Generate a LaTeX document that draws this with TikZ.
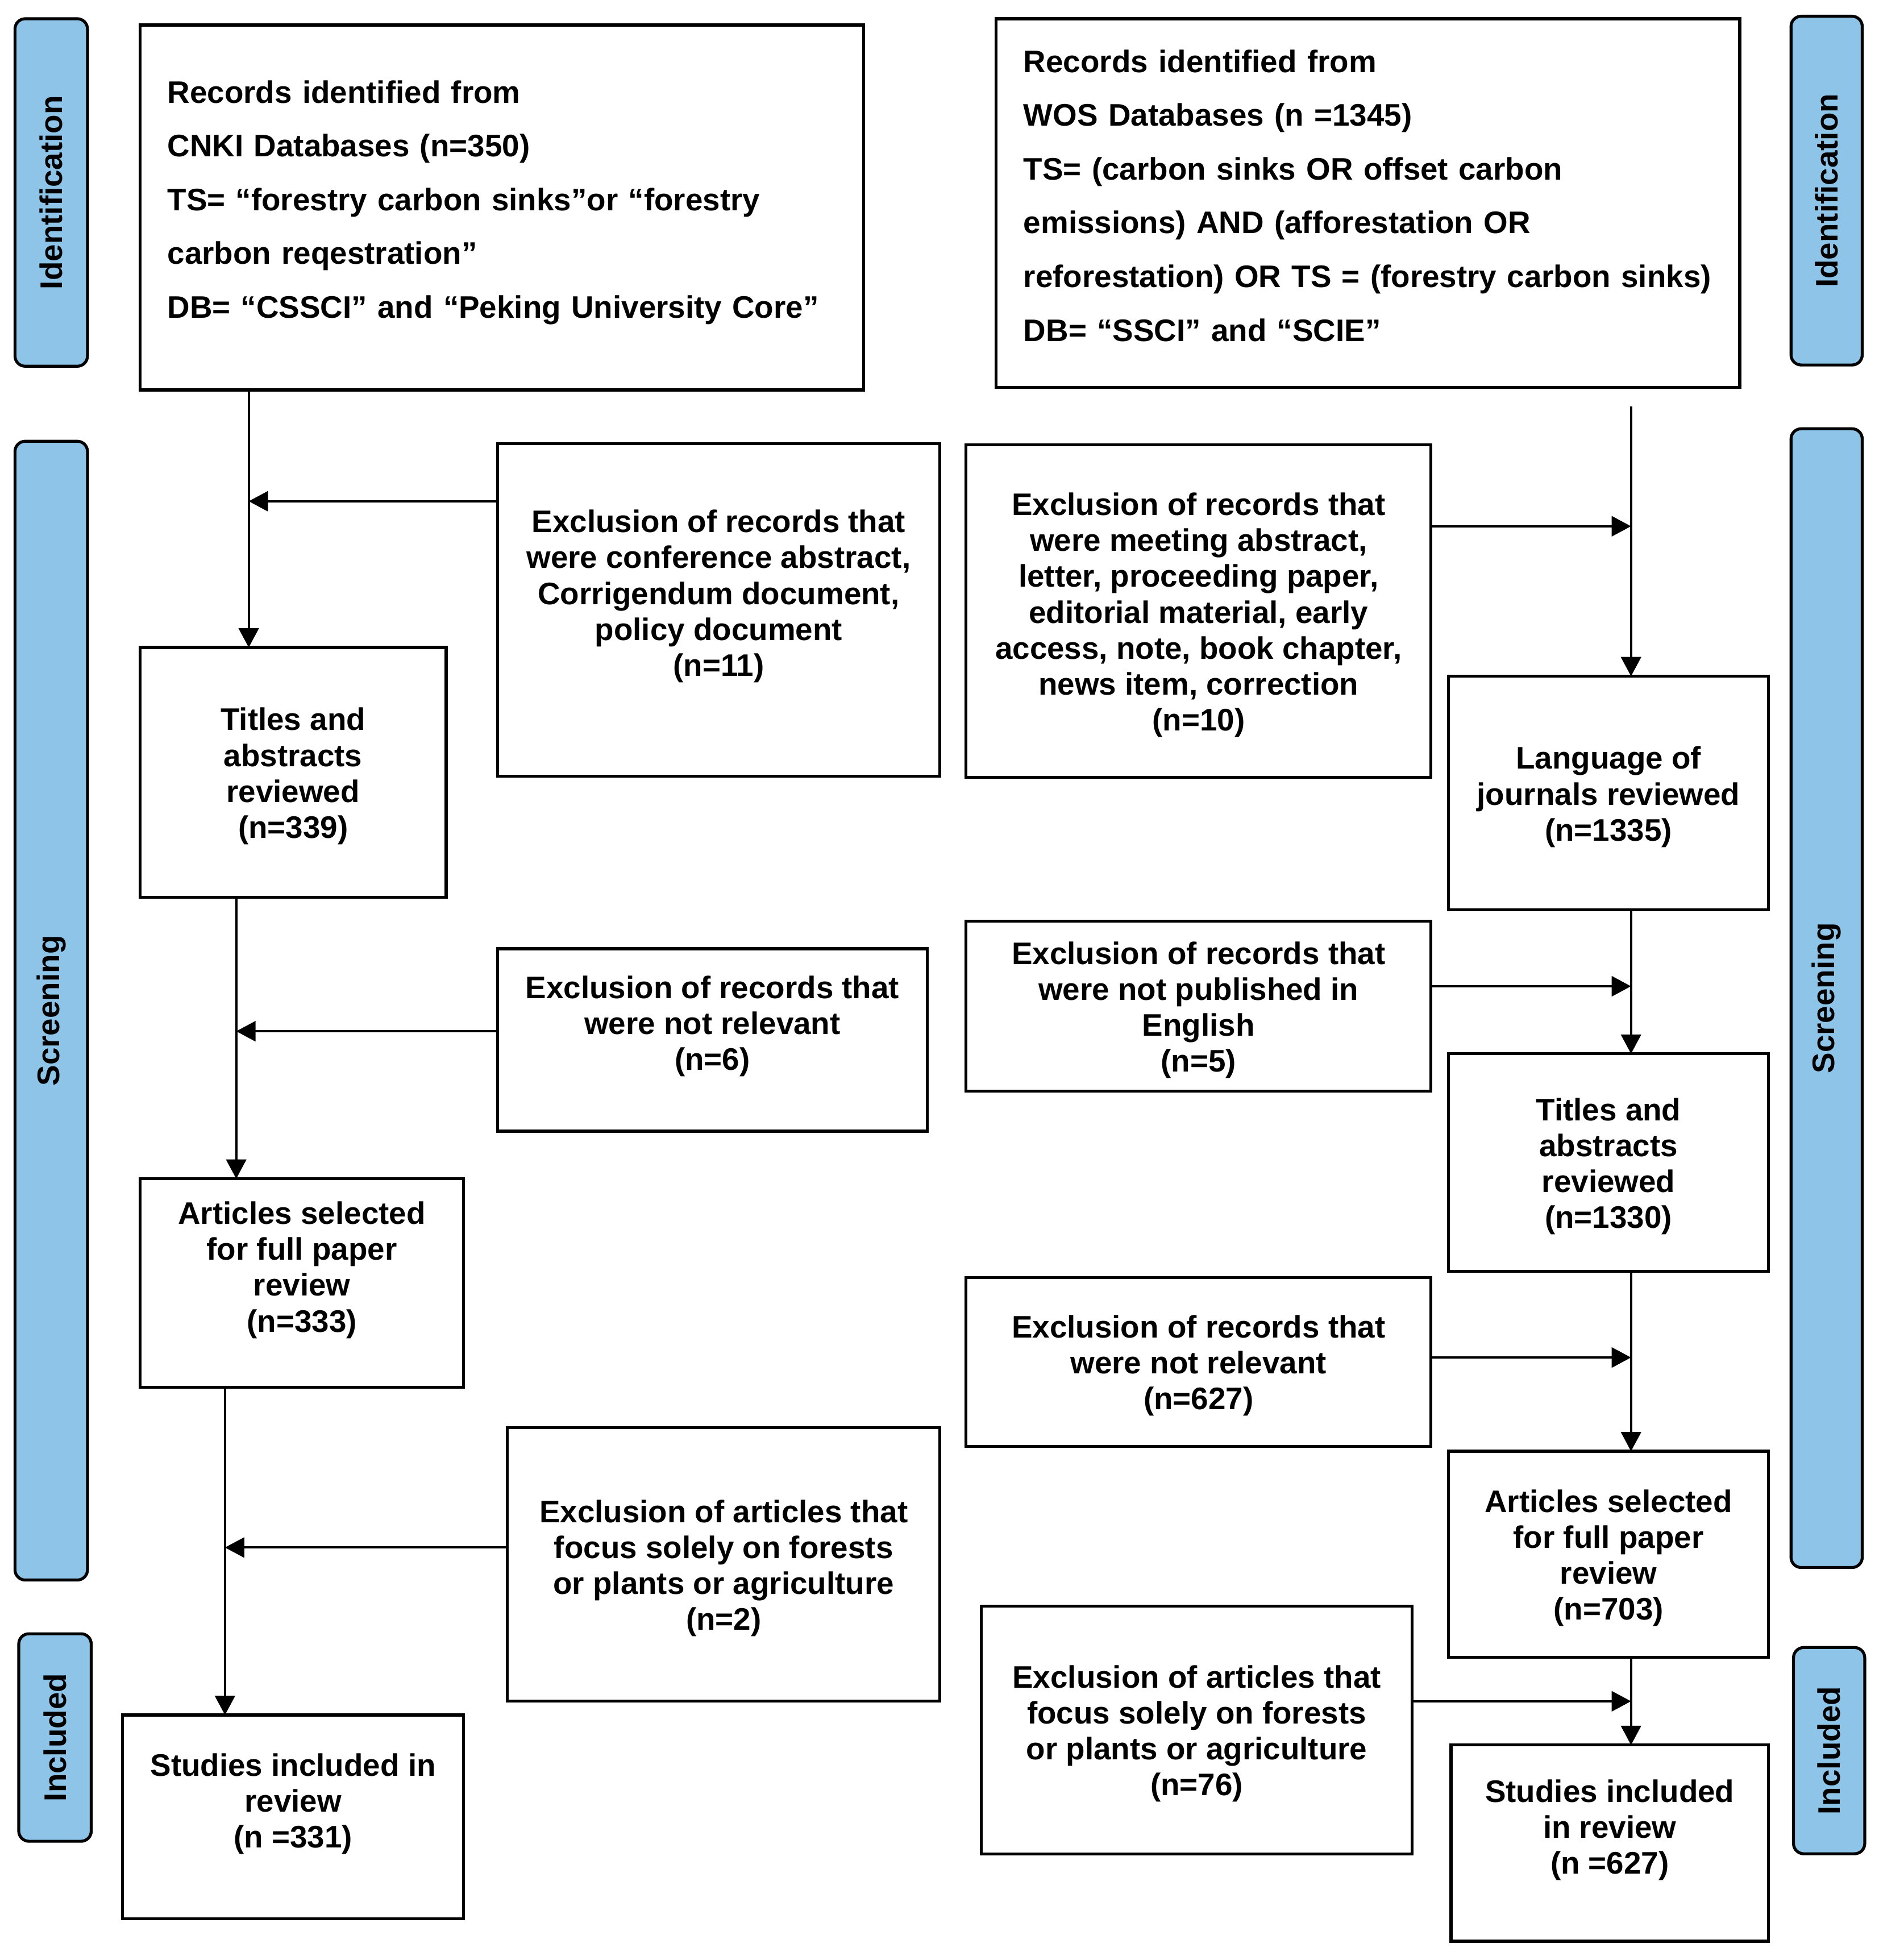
\documentclass[tikz,border=0pt]{standalone}
\usepackage{fontspec}
\setmainfont{Liberation Sans}
\usetikzlibrary{arrows.meta}
\definecolor{sidebl}{RGB}{142,196,232}
\tikzset{
  boxst/.style={draw, line width=1.3pt, inner sep=0pt, outer sep=0pt},
  txt/.style={inner sep=0pt, outer sep=0pt, align=center,
    font=\bfseries\fontsize{13.7pt}{15.8pt}\selectfont},
  leftbox/.style={align=left, font=\bfseries\fontsize{13.7pt}{23.65pt}\selectfont},
  side/.style={draw, line width=1.3pt, fill=sidebl, rounded corners=4.5pt, inner sep=0pt, outer sep=0pt,
    rotate=90, font=\bfseries\fontsize{13.7pt}{15.8pt}\selectfont},
  arr/.style={line width=1.05pt, -{Triangle[length=8.5pt,width=8.8pt]}},
}
% \Bx[text opts]{name}{x1}{y1}{x2}{y2}{text shift}{text}
\newcommand\Bx[8][]{%
  \node[boxst,minimum width={(#5-#3)*0.55pt},minimum height={(#6-#4)*0.55pt}] (#2) at ({(#3+#5)/2},{(#4+#6)/2}) {};
  \node[txt,#1] (#2t) at ({(#3+#5)/2},{(#4+#6)/2+#7}) {#8};}
\newcommand\Sb[6]{\node[side,minimum width={(#5-#3)*0.55pt},minimum height={(#4-#2)*0.55pt}] (#1) at ({(#2+#4)/2},{(#3+#5)/2}) {#6};}
\begin{document}
\begin{tikzpicture}[x=0.55pt,y=-0.55pt]
\useasboundingbox (0,0) rectangle (1503,1568);
% sidebars
\Sb{SbLa}{12}{15}{70}{293}{Identification}
\Sb{SbLb}{12}{353}{70}{1264}{Screening}
\Sb{SbLc}{15}{1307}{73}{1473}{Included}
\Sb{SbRa}{1433}{13}{1490}{292}{Identification}
\Sb{SbRb}{1433}{343}{1490}{1254}{Screening}
\Sb{SbRc}{1435}{1318}{1492}{1483}{Included}
% left column
\Bx[leftbox,text width={(579-44)*0.55pt}]{A1}{112}{20}{691}{312}{-4}{\mbox{Records identified from}\\\mbox{CNKI Databases (n=350)}\\\mbox{TS= “forestry carbon sinks”or “forestry}\\\mbox{carbon reqestration”}\\\mbox{DB= “CSSCI” and “Peking University Core”}}
\Bx{Le1}{398}{355}{752}{621}{-11}{Exclusion of records that\\were conference abstract,\\Corrigendum document,\\policy document\\(n=11)}
\Bx{L2}{112}{518}{357}{718}{3}{Titles and\\abstracts\\reviewed\\(n=339)}
\Bx{Le2}{398}{759}{742}{905}{-11}{Exclusion of records that\\were not relevant\\(n=6)}
\Bx{L3}{112}{943}{371}{1110}{-10.5}{Articles selected\\for full paper\\review\\(n=333)}
\Bx{Le3}{406}{1142}{752}{1361}{3}{Exclusion of articles that\\focus solely on forests\\or plants or agriculture\\(n=2)}
\Bx{L4}{98}{1372}{371}{1535}{-10.5}{Studies included in\\review\\(n =331)}
% right column
\Bx[leftbox,text width={(595-44)*0.55pt}]{R1}{797}{15}{1392}{310}{-6}{\mbox{Records identified from}\\\mbox{WOS Databases (n =1345)}\\\mbox{TS= (carbon sinks OR offset carbon}\\\mbox{emissions) AND (afforestation OR}\\\mbox{reforestation) OR TS = (forestry carbon sinks)}\\\mbox{DB= “SSCI” and “SCIE”}}
\Bx{Re1}{773}{356}{1145}{622}{3}{Exclusion of records that\\were meeting abstract,\\letter, proceeding paper,\\editorial material, early\\access, note, book chapter,\\news item, correction\\(n=10)}
\Bx{R2}{1159}{541}{1415}{728}{3}{Language of\\journals reviewed\\(n=1335)}
\Bx{Re2}{773}{737}{1145}{873}{3}{Exclusion of records that\\were not published in\\English\\(n=5)}
\Bx{R3}{1159}{843}{1415}{1017}{3}{Titles and\\abstracts\\reviewed\\(n=1330)}
\Bx{Re3}{773}{1022}{1145}{1157}{3}{Exclusion of records that\\were not relevant\\(n=627)}
\Bx{R4}{1159}{1161}{1415}{1326}{3}{Articles selected\\for full paper\\review\\(n=703)}
\Bx{Re4}{785}{1285}{1130}{1483}{3}{Exclusion of articles that\\focus solely on forests\\or plants or agriculture\\(n=76)}
\Bx{R5}{1161}{1396}{1415}{1553}{-10.5}{Studies included\\in review\\(n =627)}
% junction coordinates
\coordinate (tL1) at (199,401);
\coordinate (tL2) at (189,825);
\coordinate (tL3) at (180,1238);
\coordinate (tR0) at (1305,325);
\coordinate (tR1) at (1305,421);
\coordinate (tR2) at (1305,789);
\coordinate (tR3) at (1305,1086);
\coordinate (tR4) at (1305,1361);
% left connectors
\draw[arr] (A1.south -| tL1) -- (L2.north -| tL1);
\draw[arr] (Le1.west |- tL1) -- (tL1);
\draw[arr] (L2.south -| tL2) -- (L3.north -| tL2);
\draw[arr] (Le2.west |- tL2) -- (tL2);
\draw[arr] (L3.south -| tL3) -- (L4.north -| tL3);
\draw[arr] (Le3.west |- tL3) -- (tL3);
% right connectors
\draw[arr] (tR0) -- (R2.north -| tR0);
\draw[arr] (Re1.east |- tR1) -- (tR1);
\draw[arr] (R2.south -| tR0) -- (R3.north -| tR0);
\draw[arr] (Re2.east |- tR2) -- (tR2);
\draw[arr] (R3.south -| tR0) -- (R4.north -| tR0);
\draw[arr] (Re3.east |- tR3) -- (tR3);
\draw[arr] (R4.south -| tR0) -- (R5.north -| tR0);
\draw[arr] (Re4.east |- tR4) -- (tR4);
\end{tikzpicture}
\end{document}
